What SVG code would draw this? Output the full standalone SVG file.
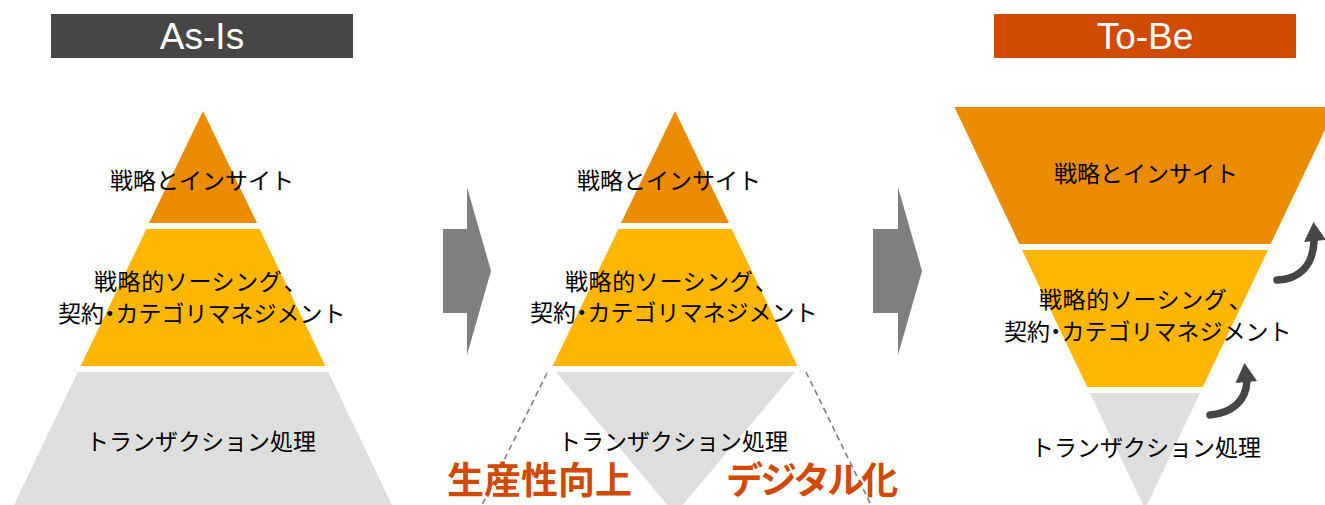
<svg xmlns="http://www.w3.org/2000/svg" width="1325" height="505" viewBox="0 0 1325 505">
  <style>
    .hdr { font-family: "Liberation Sans", Arial, sans-serif; font-size: 37px; fill: #ffffff; text-anchor: middle; }
    .jp { font-family: "Noto Sans CJK JP", "Noto Sans", sans-serif; font-size: 23px; fill: #000000; }
    .em { font-family: "Noto Sans CJK JP", "Noto Sans", sans-serif; font-size: 37px; font-weight: 700; fill: #D04A02; }
    .dot { font-feature-settings: "palt"; }
    .t1 { fill: #EB8C00; }
    .t2 { fill: #FFB600; }
    .t3 { fill: #DEDEDE; }
    .chev { fill: #7F7F7F; }
    .dash { stroke: #7F7F7F; stroke-width: 1.6; stroke-dasharray: 6 4; fill: none; }
    .curve { stroke: #464646; stroke-width: 7.5; fill: none; stroke-linecap: round; }
    .head { fill: #464646; }
  </style>
  <rect width="1325" height="505" fill="#ffffff"/>

  <!-- Headers -->
  <g id="header-asis">
    <rect x="51" y="14" width="302" height="44" fill="#464646"/>
    <text class="hdr" x="202" y="49">As-Is</text>
  </g>
  <g id="header-tobe">
    <rect x="994" y="14" width="302" height="44" fill="#D04A02"/>
    <text class="hdr" x="1145" y="49">To-Be</text>
  </g>

  <!-- As-Is pyramid -->
  <g id="asis-top">
    <polygon class="t1" points="203,111 257,223 149,223"/>
    <text class="jp" x="110" y="189">戦略とインサイト</text>
  </g>
  <g id="asis-mid">
    <polygon class="t2" points="146.4,229 259.6,229 325.4,366 80.6,366"/>
    <text class="jp" x="94" y="290" letter-spacing="0.6">戦略的ソーシング<tspan dx="3">、</tspan></text>
    <text class="jp" x="58" y="322">契約<tspan class="dot">・</tspan>カテゴリマネジメント</text>
  </g>
  <g id="asis-bottom">
    <polygon class="t3" points="77.7,372 328.3,372 393,507 13,507"/>
    <text class="jp" x="86" y="450">トランザクション処理</text>
  </g>

  <!-- Middle pyramid -->
  <g id="mid-top">
    <polygon class="t1" points="675,111 729,223 621,223"/>
    <text class="jp" x="577" y="189">戦略とインサイト</text>
  </g>
  <g id="mid-mid">
    <polygon class="t2" points="618.4,229 731.6,229 797.4,366 552.6,366"/>
    <text class="jp" x="565" y="290" letter-spacing="0.6">戦略的ソーシング<tspan dx="3">、</tspan></text>
    <text class="jp" x="530" y="321">契約<tspan class="dot">・</tspan>カテゴリマネジメント</text>
  </g>
  <g id="mid-bottom">
    <polygon class="t3" points="556,372 795,372 675,514"/>
    <text class="jp" x="558" y="450">トランザクション処理</text>
  </g>

  <!-- To-Be funnel -->
  <g id="tobe-top">
    <polygon class="t1" points="954.4,107 1336,107 1270.6,244 1019.4,244"/>
    <text class="jp" x="1054" y="182">戦略とインサイト</text>
  </g>
  <g id="tobe-mid">
    <polygon class="t2" points="1022,250 1268,250 1202.8,387 1087.2,387"/>
    <text class="jp" x="1039" y="308" letter-spacing="0.6">戦略的ソーシング<tspan dx="3">、</tspan></text>
    <text class="jp" x="1004" y="340">契約<tspan class="dot">・</tspan>カテゴリマネジメント</text>
  </g>
  <g id="tobe-bottom">
    <polygon class="t3" points="1090,393 1200,393 1145,509"/>
    <text class="jp" x="1031" y="456">トランザクション処理</text>
  </g>

  <!-- Connectors -->
  <g id="connectors">
    <polygon class="chev" points="443,229 467,229 467,187 491,271 467,355 467,313 443,313"/>
    <polygon class="chev" points="873,229 898,229 898,187 922,271 898,355 898,313 873,313"/>
    <line class="dash" x1="547" y1="373" x2="481" y2="507"/>
    <line class="dash" x1="806" y1="372" x2="872" y2="507"/>
    <path class="curve" d="M1277,280 C1299,279 1313,266 1314,241"/>
    <polygon class="head" points="1313.5,222 1304,242 1326,240"/>
    <path class="curve" d="M1210,415 C1232,413 1246,401 1247,381"/>
    <polygon class="head" points="1244.5,363 1235.5,383 1257,381"/>
  </g>

  <!-- Emphasis labels -->
  <g id="label-productivity">
    <text class="em" x="447" y="494">生産性向上</text>
  </g>
  <g id="label-digital">
    <text class="em" x="726" y="494" letter-spacing="-3">デジタル化</text>
  </g>
</svg>
